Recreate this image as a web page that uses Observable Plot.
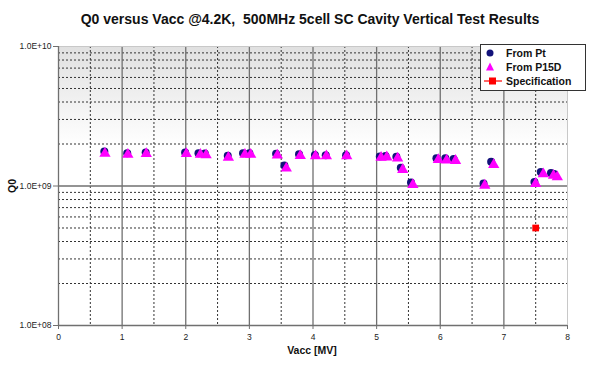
<!DOCTYPE html>
<html><head><meta charset="utf-8">
<script src="https://cdn.jsdelivr.net/npm/d3@7"></script>
<script src="https://cdn.jsdelivr.net/npm/@observablehq/plot@0.6"></script>
<style>
body{margin:0;background:#fff;font-family:Arial,"Liberation Sans",sans-serif;}
#wrap{position:relative;width:600px;height:369px;overflow:hidden;}
#title{position:absolute;left:0;width:620px;top:11px;text-align:center;font-weight:bold;font-size:14px;color:#111;white-space:nowrap;}
#xlabel{position:absolute;left:262px;width:100px;top:344px;text-align:center;font-weight:bold;font-size:10.5px;color:#111;}
#ylabel{position:absolute;left:-8px;top:180px;width:40px;text-align:center;font-weight:bold;font-size:10.5px;transform:rotate(-90deg);color:#111;}
#legend{position:absolute;left:480px;top:44px;width:104px;height:45px;border:1px solid #333;background:#fff;font-size:10.5px;font-weight:bold;color:#111;}
#legend .it{position:absolute;left:0;height:14px;line-height:14px;}
#legend .it span{position:absolute;left:25px;white-space:nowrap;}
#legend svg{position:absolute;left:2px;top:0;}
</style></head>
<body>
<div id="wrap">
<div id="chart"></div>
<div id="title">Q0 versus Vacc @4.2K,&nbsp; 500MHz 5cell SC Cavity Vertical Test Results</div>
<div id="ylabel">Q0</div>
<div id="xlabel">Vacc [MV]</div>
<div id="legend">
 <div class="it" style="top:1px"><svg width="22" height="14"><circle cx="7" cy="7" r="3.5" fill="#12127a"/></svg><span>From Pt</span></div>
 <div class="it" style="top:15px"><svg width="22" height="14"><path d="M7,2.5 L11,10.5 L3,10.5Z" fill="#ff00ff"/></svg><span>From P15D</span></div>
 <div class="it" style="top:29px"><svg width="22" height="14"><line x1="1" x2="19" y1="7" y2="7" stroke="#ff0000" stroke-width="1.2"/><rect x="6" y="3.5" width="7" height="7" fill="#ff0000"/></svg><span>Specification</span></div>
</div>
</div>
<script>
// Data
const ptVacc = [0.72,1.08,1.37,1.99,2.20,2.30,2.66,2.90,3.00,3.42,3.55,3.78,4.03,4.20,4.52,5.05,5.14,5.31,5.38,5.54,5.94,6.08,6.21,6.68,6.80,7.48,7.58,7.74,7.79];
const ptQ0   = [1.77e9,1.72e9,1.74e9,1.74e9,1.72e9,1.71e9,1.65e9,1.72e9,1.72e9,1.70e9,1.40e9,1.69e9,1.67e9,1.66e9,1.66e9,1.63e9,1.64e9,1.62e9,1.35e9,1.06e9,1.58e9,1.58e9,1.56e9,1.04e9,1.49e9,1.07e9,1.26e9,1.24e9,1.22e9];
const p15Vacc = [0.73,1.09,1.38,2.01,2.23,2.32,2.67,2.93,3.02,3.44,3.58,3.80,4.04,4.21,4.53,5.07,5.16,5.33,5.41,5.57,5.97,6.10,6.24,6.70,6.84,7.50,7.62,7.78,7.84];
const p15Q0   = [1.71e9,1.68e9,1.70e9,1.70e9,1.68e9,1.67e9,1.60e9,1.68e9,1.68e9,1.66e9,1.34e9,1.65e9,1.64e9,1.64e9,1.64e9,1.60e9,1.61e9,1.58e9,1.31e9,1.02e9,1.54e9,1.53e9,1.52e9,1.01e9,1.42e9,1.04e9,1.22e9,1.19e9,1.16e9];
const specVacc = [7.5];
const specQ0 = [5.0e8];
const xTicks = [0,1,2,3,4,5,6,7,8];
const xHalfTicks = [0.5,1.5,2.5,3.5,4.5,5.5,6.5,7.5];
const yTicks = [1e8,1e9,1e10];
const yTickLabels = ["1.0E+08","1.0E+09","1.0E+10"];
const yMinor = [2e8,3e8,4e8,5e8,6e8,7e8,8e8,9e8,2e9,3e9,4e9,5e9,6e9,7e9,8e9,9e9];

const pt = ptVacc.map((v,i)=>({x:v,y:ptQ0[i]}));
const p15 = p15Vacc.map((v,i)=>({x:v,y:p15Q0[i]}));
const spec = specVacc.map((v,i)=>({x:v,y:specQ0[i]}));

const plot = Plot.plot({
  width: 600, height: 369,
  marginTop: 46, marginBottom: 44, marginLeft: 58, marginRight: 33,
  style: {fontFamily: "Arial, 'Liberation Sans', sans-serif", fontSize: "8.5px", color: "#222", background: "transparent"},
  x: {domain: [0,8], label: null},
  y: {type: "log", domain: [1e8,1e10], label: null},
  marks: [
    Plot.rect([{}], {x1: () => 0, x2: () => 8, y1: () => 1e8, y2: () => 1e10, fill: "url(#bgGrad)"}),
    Plot.ruleY(yMinor, {stroke: "#333", strokeWidth: 1, strokeDasharray: "2,2"}),
    Plot.ruleX(xHalfTicks, {stroke: "#333", strokeWidth: 1, strokeDasharray: "2,2"}),
    Plot.ruleX(xTicks.slice(1,8), {stroke: "#707070", strokeWidth: 1.3}),
    Plot.ruleY([1e9], {stroke: "#707070", strokeWidth: 1.3}),
    Plot.ruleX([8], {stroke: "#c8c8c8"}),
    Plot.ruleY([1e10], {stroke: "#c8c8c8"}),
    Plot.ruleX([0], {stroke: "#707070", strokeWidth: 1.3}),
    Plot.ruleY([1e8], {stroke: "#707070", strokeWidth: 1.3}),
    Plot.axisX(xTicks, {tickSize: 4, tickPadding: 4, stroke: "#707070", label: null, fontSize: 8.5}),
    Plot.axisY(yTicks, {tickSize: 5, tickPadding: 2, stroke: "#707070", label: null, fontSize: 8.5,
      tickFormat: d => yTickLabels[yTicks.indexOf(d)]}),
    Plot.dot(pt, {x: "x", y: "y", r: 4, fill: "#12127a", symbol: "circle"}),
    Plot.dot(p15, {x: "x", y: "y", r: 4.2, fill: "#ff00ff", symbol: "triangle"}),
    Plot.dot(spec, {x: "x", y: "y", r: 3.8, fill: "#ff0000", symbol: "square"})
  ]
});
const ns = "http://www.w3.org/2000/svg";
const defs = document.createElementNS(ns, "defs");
defs.innerHTML = '<linearGradient id="bgGrad" x1="0" y1="0" x2="0" y2="1"><stop offset="0" stop-color="#e0e0e0"/><stop offset="0.36" stop-color="#ffffff"/><stop offset="1" stop-color="#ffffff"/></linearGradient>';
plot.insertBefore(defs, plot.firstChild);
document.getElementById("chart").appendChild(plot);
</script>
</body></html>
